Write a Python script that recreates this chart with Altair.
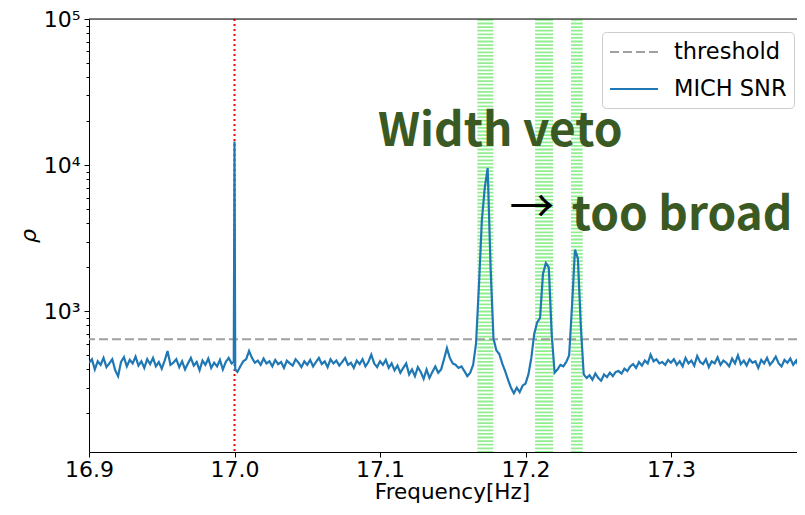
import altair as alt
import pandas as pd

STEP = 0.002

# ---- MICH SNR series ----
segA_start = 16.900
segA = [445, 470, 400, 455, 430, 480, 415, 440, 470, 395,
        360, 450, 485, 420, 465, 440, 490, 425, 455, 410,
        470, 435, 480, 420, 450, 405, 460, 535, 430, 445,
        470, 415, 455, 400, 440, 480, 425, 450, 395, 460,
        430, 475, 410, 445, 420, 465, 400, 450, 480, 440]

spike_freq = [16.9995, 17.0000, 17.0005]
spike_rho = [450, 14500, 400]

segB_start = 17.002
segB = [385, 420, 455, 470, 535, 480, 445, 460, 430, 475,
        440, 455, 420, 465, 435, 450, 410, 460, 440, 425,
        470, 445, 415, 455, 430, 465, 420, 450, 480, 435,
        455, 415, 470, 440, 460, 425, 450, 480, 430, 445,
        410, 460, 435, 470, 420, 450, 505, 440, 415, 455,
        430, 465, 410, 440, 395, 425, 380, 410, 440, 370,
        400, 360, 415, 385, 345, 400, 350, 385, 420]

segC_start = 17.140
segC = [380, 400, 470, 560, 480, 440, 430, 410, 420, 390,
        360, 380, 430, 600, 1500, 4200, 7000, 9540, 2000, 650,
        540, 510, 440, 390, 340, 300, 275, 300, 280, 310,
        320, 370, 480, 700, 840, 900, 1800, 2140, 2000, 700,
        380, 400, 430, 420, 450, 500, 1100, 2640, 2300, 800,
        370, 350]

segD_start = 17.244
segD = [365, 340, 375, 350, 335, 370, 355, 380, 360, 385,
        390, 375, 405, 390, 420, 435, 410, 450, 425, 460,
        440, 505, 455, 470, 440, 450, 430, 465,
        445, 470, 430, 455, 420, 480, 440, 460, 425, 495,
        450, 435, 470, 415, 455, 440, 485, 430, 460, 445,
        420, 475, 440, 500, 435, 460, 425, 470, 445, 455,
        410, 465, 440, 480, 430, 455, 490, 440, 420, 465,
        445, 475, 430, 460, 415, 450, 485, 440, 455, 430,
        465]

threshold = 645
marker_freq = [17.0]
band_freq = [17.1724, 17.2128, 17.2353]
band_width_hz = [0.0110, 0.0124, 0.0080]

x_ticks = [16.9, 17.0, 17.1, 17.2, 17.3]
y_ticks = [200, 300, 400, 500, 600, 700, 800, 900,
           1000, 2000, 3000, 4000, 5000, 6000, 7000, 8000, 9000,
           10000, 20000, 30000, 40000, 50000, 60000, 70000, 80000, 90000,
           100000]

W, H = 708, 433
XMIN = 16.9
XMAX = 16.9 + W / 1455.0   # visible part of the 16.9 - 17.4 axis
YMIN, YMAX = 109, 100000

series_names = ["threshold", "MICH SNR"]

# ---- build tables ----
freqs, rhos = [], []
for start, seg in [(segA_start, segA), (segB_start, segB), (segC_start, segC), (segD_start, segD)]:
    for k, v in enumerate(seg):
        freqs.append(round(start + STEP * k, 4))
        rhos.append(v)
freqs += spike_freq
rhos += spike_rho
line_df = pd.DataFrame({"freq": freqs, "rho": rhos})
line_df = line_df.drop_duplicates("freq", keep="last").sort_values("freq")
line_df["series"] = "MICH SNR"

thr_df = pd.DataFrame({"rho": [threshold], "series": ["threshold"]})
frame_df = pd.DataFrame({"rho": [YMAX]})
band_df = pd.DataFrame({"freq": band_freq,
                        "px": [w * W / (XMAX - XMIN) for w in band_width_hz]})
marker_df = pd.DataFrame({"freq": marker_freq})

text_df = pd.DataFrame({
    "freq": [17.0986, 17.2318],
    "rho": [13490, 3612],
    "label": ["Width veto", "too broad"],
})
arrow_df = pd.DataFrame({"freq": [17.2045], "rho": [5000], "label": ["→"]})

xscale = alt.Scale(domain=[XMIN, XMAX], nice=False, zero=False)
yscale = alt.Scale(type="log", domain=[YMIN, YMAX], nice=False)

color_scale = alt.Scale(domain=series_names, range=["#a0a0a0", "#1f77b4"])
dash_scale = alt.Scale(domain=series_names, range=[[9, 4], [1, 0]])

legend = alt.Legend(
    title=None, orient="none", legendX=513, legendY=13,
    fillColor="white", strokeColor="#cccccc", cornerRadius=4, padding=7,
    labelFont="DejaVu Sans", labelFontSize=22.5, labelColor="black",
    symbolType="M-1,0H3", symbolSize=576, symbolStrokeWidth=2,
    labelOffset=39, rowPadding=12, labelLimit=300,
)

major_test = "datum.value == 1000 || datum.value == 10000 || datum.value == 100000"

x_axis = alt.Axis(
    values=x_ticks, format=".1f", title="Frequency[Hz]",
    labelFont="DejaVu Sans", labelFontSize=22, labelColor="black", labelPadding=2,
    tickSize=5, tickColor="black", domainColor="black", grid=False,
    titleFont="DejaVu Sans", titleFontSize=21.5, titleFontWeight="normal",
    titleColor="black", titleX=363, titleY=46, titleBaseline="alphabetic",
    labelFlush=False,
)
y_axis = alt.Axis(
    values=y_ticks, title="ρ",
    labelExpr="datum.value == 1000 ? '10³' : datum.value == 10000 ? '10⁴' : datum.value == 100000 ? '10⁵' : ''",
    labelFont="DejaVu Sans", labelFontSize=22, labelColor="black", labelPadding=4,
    tickSize={"condition": {"test": major_test, "value": 5}, "value": 3},
    tickColor="black", domainColor="black", grid=False,
    titleFont="DejaVu Sans", titleFontSize=22, titleFontWeight="normal",
    titleFontStyle="italic", titleColor="black", titlePadding=3, labelFlush=False,
)

base_x = alt.X("freq:Q", scale=xscale, axis=x_axis)

bands = alt.Chart(band_df).mark_rule(color="#90EE90", strokeDash=[1.8, 1.8]).encode(
    x=alt.X("freq:Q", scale=xscale),
    strokeWidth=alt.StrokeWidth("px:Q", scale=None),
)

marker = alt.Chart(marker_df).mark_rule(color="red", strokeDash=[2, 3], strokeWidth=2).encode(
    x=alt.X("freq:Q", scale=xscale),
)

top_frame = alt.Chart(frame_df).mark_rule(color="black", strokeWidth=1).encode(
    y=alt.Y("rho:Q", scale=yscale),
)

thr = alt.Chart(thr_df).mark_rule(strokeWidth=2).encode(
    y=alt.Y("rho:Q", scale=yscale),
    color=alt.Color("series:N", scale=color_scale, legend=legend),
    strokeDash=alt.StrokeDash("series:N", scale=dash_scale, legend=legend),
)

line = alt.Chart(line_df).mark_line(strokeWidth=2.2, clip=True).encode(
    x=base_x,
    y=alt.Y("rho:Q", scale=yscale, axis=y_axis),
    color=alt.Color("series:N", scale=color_scale, legend=legend),
    strokeDash=alt.StrokeDash("series:N", scale=dash_scale, legend=legend),
    order=alt.Order("freq:Q"),
)

texts = alt.Chart(text_df).mark_text(
    align="left", baseline="alphabetic", font="Noto Sans CJK JP",
    fontWeight="bold", fontSize=46, color="#3B5A23",
).encode(
    x=alt.X("freq:Q", scale=xscale),
    y=alt.Y("rho:Q", scale=yscale),
    text="label:N",
)

arrow = alt.Chart(arrow_df).mark_text(
    align="center", baseline="middle", font="Noto Sans CJK JP",
    fontSize=45, color="black",
).encode(
    x=alt.X("freq:Q", scale=xscale),
    y=alt.Y("rho:Q", scale=yscale),
    text="label:N",
)

chart = alt.layer(bands, marker, top_frame, thr, line, texts, arrow).properties(
    width=W, height=H,
    autosize=alt.AutoSizeParams(type="none"),
    padding={"left": 81, "top": 11, "right": 0, "bottom": 51},
).configure_view(strokeWidth=0).configure(background="white")

chart.save("out.html", embed_options={"renderer": "svg", "actions": False})
